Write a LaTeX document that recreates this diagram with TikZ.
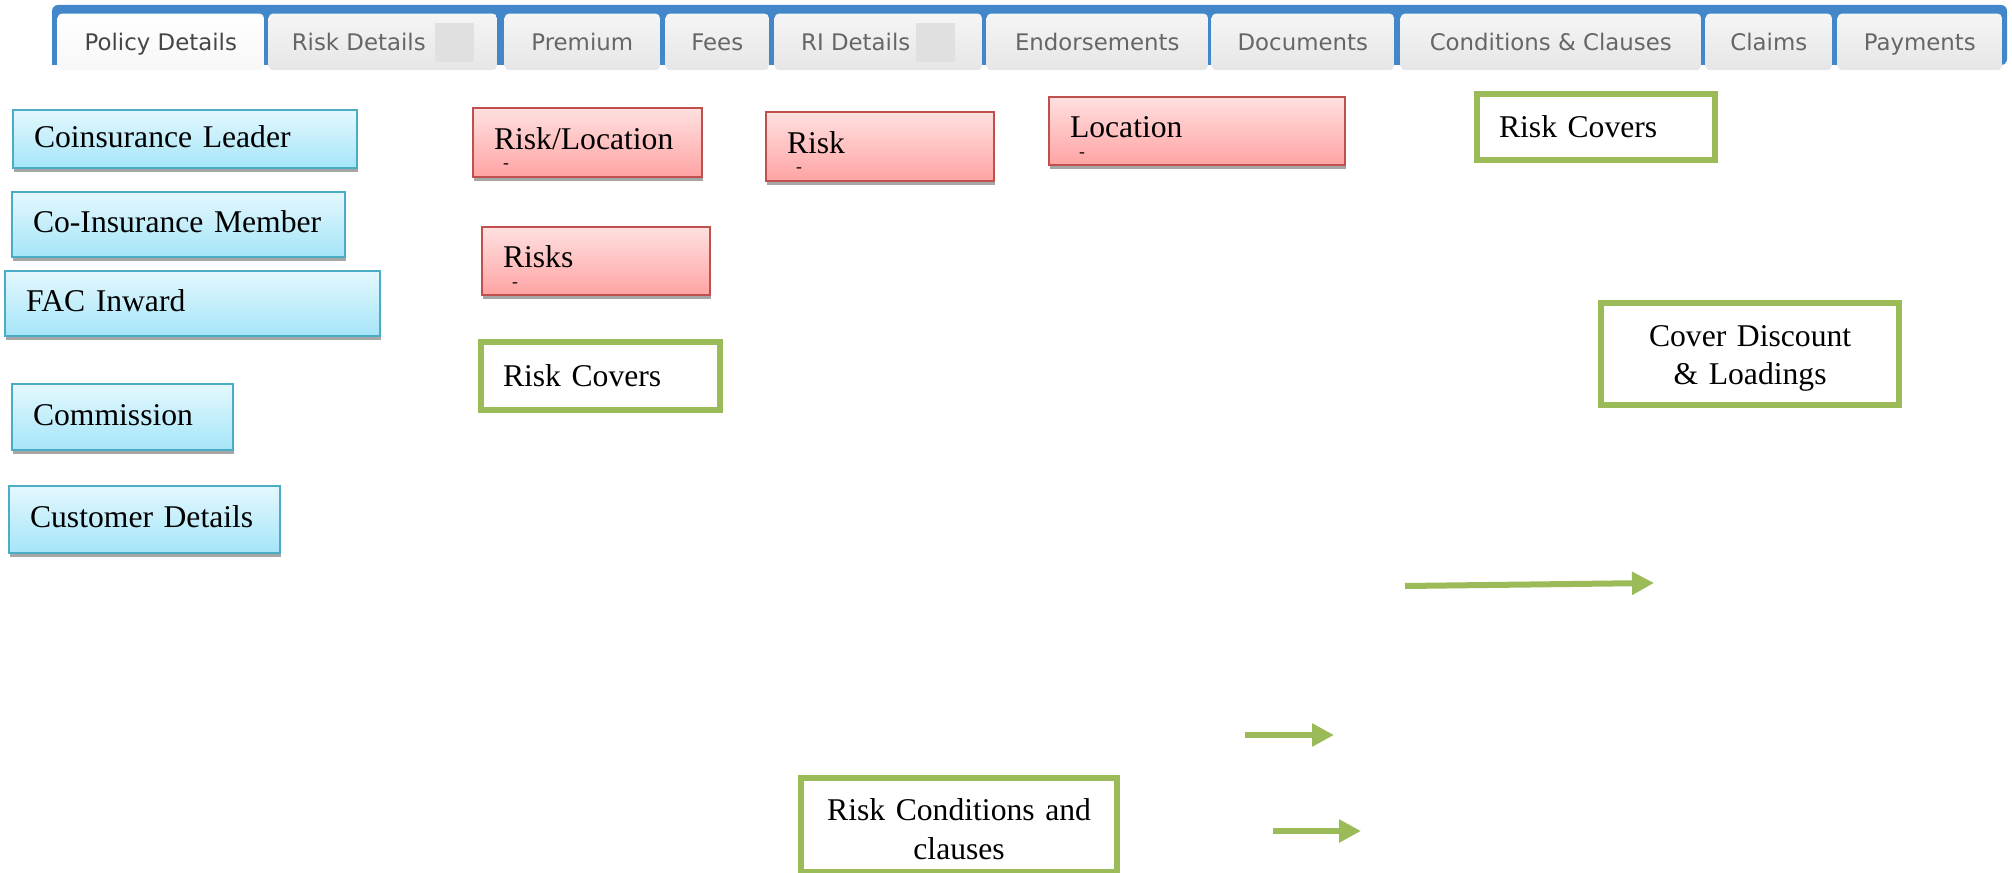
\documentclass[tikz,border=0pt]{standalone}
\usepackage{fontspec}
\setmainfont{Liberation Serif}
\newfontfamily\tabfont{DejaVu Sans}
\usepackage{xcolor}
\usetikzlibrary{arrows.meta,shadows,positioning}

\definecolor{tabblue}{HTML}{4287CA}
\definecolor{tabtop}{HTML}{F5F5F5}
\definecolor{tabbottom}{HTML}{E6E6E6}
\definecolor{tabtext}{HTML}{666666}
\definecolor{tabactive}{HTML}{464646}
\definecolor{redact}{HTML}{E0E0E0}
\definecolor{blueedge}{HTML}{4BACC6}
\definecolor{bluetop}{HTML}{E4F8FE}
\definecolor{bluebottom}{HTML}{A5E5F8}
\definecolor{rededge}{HTML}{C0504D}
\definecolor{redtop}{HTML}{FFE0E0}
\definecolor{redbottom}{HTML}{FFA3A3}
\definecolor{greenedge}{HTML}{9BBB59}
\definecolor{shadowgrey}{HTML}{A6A6A6}

\newcommand{\boxfont}{\fontsize{9pt}{11pt}\selectfont}
\newcommand{\greysq}{\textcolor{redact}{\rule[-0.12cm]{0.39cm}{0.39cm}}}
\newcommand{\topstrut}{\rule{0pt}{0.30cm}}
\newcommand{\withdash}[1]{\rule{0pt}{0.33cm}#1\\[-0.19cm]\hspace*{0.09cm}{\fontsize{5pt}{5pt}\selectfont -}}

\begin{document}
\begin{tikzpicture}[
    x=0.01cm, y=-0.01cm,
    pagetab/.style={anchor=north west, rectangle, rounded corners=0.04cm, minimum height=0.52cm, inner xsep=0pt, top color=tabtop, bottom color=tabbottom, text=tabtext, font=\tabfont\fontsize{6.5pt}{8pt}\selectfont, text height=0.25cm, text depth=0.08cm},
    activetab/.style={pagetab, top color=white, bottom color=white!97!black, text=tabactive},
    infobox/.style={anchor=north west, rectangle, line width=0.02cm, inner xsep=0.21cm, align=left, font=\boxfont, drop shadow={shadow xshift=0.01cm, shadow yshift=-0.04cm, fill=shadowgrey, opacity=1}},
    bluebox/.style={infobox, draw=blueedge, top color=bluetop, bottom color=bluebottom, text height=0.22cm, text depth=0.06cm},
    redbox/.style={infobox, draw=rededge, top color=redtop, bottom color=redbottom, inner ysep=0pt},
    greenbox/.style={anchor=north west, rectangle, draw=greenedge, line width=0.06cm, fill=white, inner xsep=0.22cm, font=\boxfont},
    greenarrow/.style={draw=greenedge, line width=0.06cm, -{Triangle[length=0.22cm, width=0.22cm]}}
]
    \useasboundingbox (0,0) rectangle (2012,873);

    % tab strip
    \fill[tabblue] (52,65) [rounded corners=0.06cm] -- (52,5) -- (2007,5) -- (2007,65) [sharp corners] -- cycle;
    \node[activetab, minimum width=2.06cm] (policy) at (57,13) {Policy Details};
    \node[pagetab, minimum width=2.28cm] (riskdet) at (268,13) {Risk Details\hspace{0.09cm}\greysq};
    \node[pagetab, minimum width=1.55cm] (premium) at (504,13) {Premium};
    \node[pagetab, minimum width=1.03cm] (fees) at (665,13) {Fees};
    \node[pagetab, minimum width=2.07cm] (ridet) at (774,13) {RI Details\hspace{0.06cm}\greysq};
    \node[pagetab, minimum width=2.21cm] (endorse) at (986,13) {Endorsements};
    \node[pagetab, minimum width=1.82cm] (docs) at (1211,13) {Documents};
    \node[pagetab, minimum width=3.00cm] (conds) at (1400,13) {Conditions \& Clauses};
    \node[pagetab, minimum width=1.26cm] (claims) at (1705,13) {Claims};
    \node[pagetab, minimum width=1.64cm] (payments) at (1837,13) {Payments};

    % policy level
    \node[bluebox, text width=3.02cm, minimum height=0.58cm] (leader) at (12,109) {Coinsurance Leader};
    \node[bluebox, text width=2.91cm, minimum height=0.65cm] (member) at (11,191) {Co-Insurance Member};
    \node[bluebox, text width=3.33cm, minimum height=0.65cm] (facin) at (4,270) {FAC Inward};
    \node[bluebox, text width=1.79cm, minimum height=0.66cm] (commission) at (11,383) {Commission};
    \node[bluebox, text width=2.29cm, minimum height=0.67cm] (customer) at (8,485) {Customer Details};

    % risk level
    \node[redbox, text width=1.87cm, minimum height=0.69cm] (riskloc) at (472,107) {\withdash{Risk/Location}};
    \node[redbox, text width=1.86cm, minimum height=0.69cm] (risk) at (765,111) {\withdash{Risk}};
    \node[redbox, text width=1.86cm, minimum height=0.68cm] (risks) at (481,226) {\withdash{Risks}};
    \node[redbox, text width=2.54cm, minimum height=0.68cm] (location) at (1048,96) {\withdash{Location}};

    % covers
    \node[greenbox, text width=1.95cm, minimum height=0.68cm, align=left] (coversleft) at (478,339) {Risk Covers};
    \node[greenbox, text width=1.94cm, minimum height=0.66cm, align=left] (coversright) at (1474,91) {Risk Covers};
    \node[greenbox, text width=2.54cm, minimum height=1.02cm, align=center] (discount) at (1598,300) {\topstrut Cover Discount\\\& Loadings};
    \node[greenbox, text width=2.72cm, minimum height=0.94cm, align=center] (conditions) at (798,775) {\topstrut Risk Conditions and\\clauses};

    \coordinate (longtail) at (1405,586);
    \coordinate (longhead) at (1654,583);
    \coordinate (midtail) at (1245,735);
    \coordinate (midhead) at (1334,735);
    \coordinate (lowtail) at (1273,831);
    \coordinate (lowhead) at (1361,831);

    \draw[greenarrow] (longtail) -- (longhead);
    \draw[greenarrow] (midtail) -- (midhead);
    \draw[greenarrow] (lowtail) -- (lowhead);
\end{tikzpicture}
\end{document}
